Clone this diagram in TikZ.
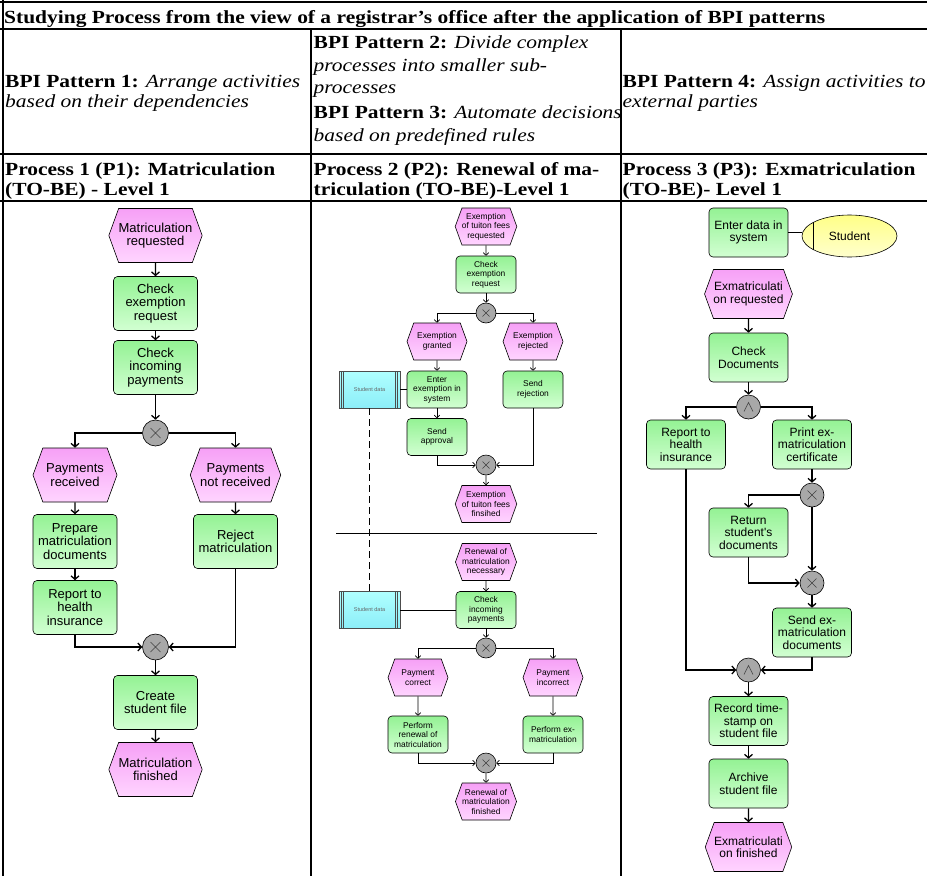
\documentclass[tikz,border=0pt]{standalone}
\usepackage{graphicx}
\usepackage{fontspec}
\setmainfont{Liberation Serif}
\newfontfamily\arisfont{Liberation Sans}
\usetikzlibrary{shapes.symbols,shapes.geometric,arrows.meta,calc}

\definecolor{evtop}{RGB}{246,160,246}
\definecolor{evbot}{RGB}{255,212,255}
\definecolor{fntop}{RGB}{148,242,148}
\definecolor{fnbot}{RGB}{210,255,210}
\definecolor{gatefill}{RGB}{168,168,168}
\definecolor{datatop}{RGB}{175,255,255}
\definecolor{databot}{RGB}{140,238,248}
\definecolor{orgtop}{RGB}{255,255,135}
\definecolor{orgbot}{RGB}{255,255,205}

% table text: Times-like serif, set slightly wide
\newcommand{\tabfont}{\fontsize{18.5}{20}\selectfont}
\newcommand{\wide}[1]{\scalebox{1.16}[1]{#1}}

\tikzset{
  gridline/.style={line width=2pt},
  celltext/.style={anchor=base west, inner sep=0pt, font=\tabfont},
  event/.style={signal, signal to=west and east, signal pointer angle=140,
    draw=black, line width=0.6pt, top color=evtop, bottom color=evbot,
    inner sep=0pt, align=center},
  func/.style={rectangle, rounded corners=4pt, draw=black, line width=0.6pt,
    top color=fntop, bottom color=fnbot, inner sep=0pt, align=center},
  gate/.style={circle, draw=black, line width=0.6pt, fill=gatefill, inner sep=0pt},
  xorgate/.style={gate, path picture={
    \draw[line width=0.5pt,black!75]
      ($(path picture bounding box.center)+(-#1,-#1)$) -- ($(path picture bounding box.center)+(#1,#1)$)
      ($(path picture bounding box.center)+(-#1,#1)$) -- ($(path picture bounding box.center)+(#1,-#1)$);}},
  andgate/.style={gate, path picture={
    \draw[line width=0.5pt,black!75]
      ($(path picture bounding box.center)+(-#1,-#1)$) -- ($(path picture bounding box.center)+(0pt,#1)$)
      -- ($(path picture bounding box.center)+(#1,-#1)$);}},
  % sizes of the three diagrams
  pA/.style={minimum width=84pt, minimum height=54pt,
    font=\arisfont\fontsize{13}{13.6}\selectfont},
  pB/.style={minimum width=60pt, minimum height=37pt,
    font=\arisfont\fontsize{8.4}{9.5}\selectfont},
  pC/.style={minimum width=79pt, minimum height=49pt,
    font=\arisfont\fontsize{12}{12.5}\selectfont},
  flowA/.style={line width=1.3pt, -{Straight Barb[length=3.5pt,width=8pt]}},
  flowB/.style={line width=0.7pt, -{Straight Barb[length=2.5pt,width=5.5pt]}},
  linkB/.style={line width=0.7pt},
  datastore/.style={rectangle, draw=black!70, line width=0.5pt,
    top color=datatop, bottom color=databot, minimum width=61pt, minimum height=37pt,
    inner sep=0pt, text=black!60, font=\arisfont\fontsize{5.5}{6}\selectfont,
    path picture={\foreach \dx in {2.5pt,4.5pt}{
      \draw[black!70,line width=0.5pt]
        ($(path picture bounding box.north west)+(\dx,0pt)$) -- ($(path picture bounding box.south west)+(\dx,0pt)$)
        ($(path picture bounding box.north east)+(-\dx,0pt)$) -- ($(path picture bounding box.south east)+(-\dx,0pt)$);}}},
  orgunit/.style={ellipse, draw=black, line width=0.6pt, top color=orgtop, bottom color=orgbot,
    minimum width=95pt, minimum height=42pt, inner sep=0pt,
    font=\arisfont\fontsize{12}{12.5}\selectfont,
    path picture={\draw[line width=0.6pt]
      ($(path picture bounding box.north west)+(11pt,0pt)$) -- ($(path picture bounding box.south west)+(11pt,0pt)$);}}
}

\begin{document}
\begin{tikzpicture}[x=1pt, y=-1pt]
\useasboundingbox (0,0) rectangle (927,876);
\fill[white] (0,0) rectangle (927,876);

% ---------- table ----------
\draw[gridline] (0,2) -- (927,2);
\draw[gridline] (0,29) -- (927,29);
\draw[gridline] (0,154) -- (927,154);
\draw[gridline] (0,201) -- (927,201);
\draw[gridline] (2.5,0) -- (2.5,876);
\draw[gridline] (311,29) -- (311,876);
\draw[gridline] (620.5,29) -- (620.5,876);

\node[celltext, font=\tabfont\bfseries] (title) at (4,23)
  {\wide{Studying Process from the view of a registrar’s office after the application of BPI patterns}};

\node[celltext] (pat1a) at (5,87) {\wide{\textbf{BPI Pattern 1:} \textit{Arrange activities}}};
\node[celltext] (pat1b) at (5,107.5) {\wide{\textit{based on their dependencies}}};

\node[celltext] (pat2a) at (313.5,48) {\wide{\textbf{BPI Pattern 2:} \textit{Divide complex}}};
\node[celltext] (pat2b) at (313.5,71) {\wide{\textit{processes into smaller sub-}}};
\node[celltext] (pat2c) at (313.5,93) {\wide{\textit{processes}}};
\node[celltext] (pat3a) at (313.5,118) {\wide{\textbf{BPI Pattern 3:} \textit{Automate decisions}}};
\node[celltext] (pat3b) at (313.5,141) {\wide{\textit{based on predefined rules}}};

\node[celltext] (pat4a) at (622.5,87) {\wide{\textbf{BPI Pattern 4:} \textit{Assign activities to}}};
\node[celltext] (pat4b) at (622.5,107.5) {\wide{\textit{external parties}}};

\node[celltext, font=\tabfont\bfseries] (head1a) at (5,175) {\wide{Process 1 (P1): Matriculation}};
\node[celltext, font=\tabfont\bfseries] (head1b) at (5,195) {\wide{(TO-BE) - Level 1}};
\node[celltext, font=\tabfont\bfseries] (head2a) at (313.5,175) {\wide{Process 2 (P2): Renewal of ma-}};
\node[celltext, font=\tabfont\bfseries] (head2b) at (313.5,195) {\wide{triculation (TO-BE)-Level 1}};
\node[celltext, font=\tabfont\bfseries] (head3a) at (622.5,175) {\wide{Process 3 (P3): Exmatriculation}};
\node[celltext, font=\tabfont\bfseries] (head3b) at (622.5,195) {\wide{(TO-BE)- Level 1}};

% ---------- Process 1 ----------
\node[event, pA] (c1e1) at (155.5,235.5) {Matriculation\\requested};
\node[func, pA]  (c1f1) at (155.5,303.5) {Check\\exemption\\request};
\node[func, pA]  (c1f2) at (155.5,367.5) {Check\\incoming\\payments};
\node[xorgate=5pt, minimum size=26pt] (c1x1) at (155.5,433) {};
\node[event, pA] (c1e2) at (75,475) {Payments\\received};
\node[event, pA] (c1e3) at (235.5,475) {Payments\\not received};
\node[func, pA]  (c1f3) at (75,541.5) {Prepare\\matriculation\\documents};
\node[func, pA]  (c1f4) at (235.5,541.5) {Reject\\matriculation};
\node[func, pA]  (c1f5) at (75,607.5) {Report to\\health\\insurance};
\node[xorgate=5pt, minimum size=26pt] (c1x2) at (155.5,647) {};
\node[func, pA]  (c1f6) at (155.5,702.5) {Create\\student file};
\node[event, pA] (c1e4) at (155.5,769.5) {Matriculation\\finished};

\draw[flowA] (c1e1) -- (c1f1);
\draw[flowA] (c1f1) -- (c1f2);
\draw[flowA] (c1f2) -- (c1x1);
\draw[flowA] (c1x1.west) -| (c1e2.north);
\draw[flowA] (c1x1.east) -| (c1e3.north);
\draw[flowA] (c1e2) -- (c1f3);
\draw[flowA] (c1e3) -- (c1f4);
\draw[flowA] (c1f3) -- (c1f5);
\draw[flowA] (c1f5.south) |- (c1x2.west);
\draw[flowA] (c1f4.south) |- (c1x2.east);
\draw[flowA] (c1x2) -- (c1f6);
\draw[flowA] (c1f6) -- (c1e4);

% ---------- Process 2 ----------
\node[event, pB] (c2e1) at (486,226.5) {Exemption\\of tuiton fees\\requested};
\node[func, pB]  (c2f1) at (486,274.5) {Check\\exemption\\request};
\node[xorgate=3.5pt, minimum size=20pt] (c2x1) at (486,313) {};
\node[event, pB] (c2e2) at (437,341.5) {Exemption\\granted};
\node[event, pB] (c2e3) at (533,341.5) {Exemption\\rejected};
\node[func, pB]  (c2f2) at (437,389.5) {Enter\\exemption in\\system};
\node[func, pB]  (c2f3) at (533,389.5) {Send\\rejection};
\node[datastore] (sd1)  at (369.5,389.5) {Student data};
\node[func, pB]  (c2f4) at (437,437) {Send\\approval};
\node[xorgate=3.5pt, minimum size=20pt] (c2x2) at (486,465) {};
\node[event, pB] (c2e4) at (486,504) {Exemption\\of tuiton fees\\finsihed};

\coordinate (sepL) at (336,533);
\coordinate (sepR) at (597,533);
\draw[line width=0.8pt] (sepL) -- (sepR);

\node[event, pB] (c2e5) at (486,562) {Renewal of\\matriculation\\necessary};
\node[func, pB]  (c2f5) at (486,610) {Check\\incoming\\payments};
\node[datastore] (sd2)  at (369.5,610) {Student data};
\node[xorgate=3.5pt, minimum size=20pt] (c2x3) at (486,648) {};
\node[event, pB] (c2e6) at (418,677.5) {Payment\\correct};
\node[event, pB] (c2e7) at (553,677.5) {Payment\\incorrect};
\node[func, pB]  (c2f6) at (418,734.5) {Perform\\renewal of\\matriculation};
\node[func, pB]  (c2f7) at (553,734.5) {Perform ex-\\matriculation};
\node[xorgate=3.5pt, minimum size=20pt] (c2x4) at (486,763) {};
\node[event, pB] (c2e8) at (486,801.5) {Renewal of\\matriculation\\finished};

\draw[flowB] (c2e1) -- (c2f1);
\draw[flowB] (c2f1) -- (c2x1);
\draw[flowB] (c2x1.west) -| (c2e2.north);
\draw[flowB] (c2x1.east) -| (c2e3.north);
\draw[flowB] (c2e2) -- (c2f2);
\draw[flowB] (c2e3) -- (c2f3);
\draw[flowB] (c2f2) -- (c2f4);
\draw[flowB] (c2f4.south) |- (c2x2.west);
\draw[flowB] (c2f3.south) |- (c2x2.east);
\draw[flowB] (c2x2) -- (c2e4);
\draw[linkB] (sd1) -- (c2f2);
\draw[linkB, dash pattern=on 7pt off 4pt] (sd1.south) -- (sd2.north);

\draw[flowB] (c2e5) -- (c2f5);
\draw[linkB] (sd2) -- (c2f5);
\draw[flowB] (c2f5) -- (c2x3);
\draw[flowB] (c2x3.west) -| (c2e6.north);
\draw[flowB] (c2x3.east) -| (c2e7.north);
\draw[flowB] (c2e6) -- (c2f6);
\draw[flowB] (c2e7) -- (c2f7);
\draw[flowB] (c2f6.south) |- (c2x4.west);
\draw[flowB] (c2f7.south) |- (c2x4.east);
\draw[flowB] (c2x4) -- (c2e8);

% ---------- Process 3 ----------
\node[func, pC]  (c3f0) at (748.5,232.5) {Enter data in\\system};
\node[orgunit]   (c3o)  at (849.5,236) {Student};
\node[event, pC] (c3e1) at (748.5,294) {Exmatriculati\\on requested};
\node[func, pC]  (c3f1) at (748.5,357.5) {Check\\Documents};
\node[andgate=4.5pt, minimum size=24pt] (c3a1) at (748.5,407) {};
\node[func, pC]  (c3f2) at (686,444.5) {Report to\\health\\insurance};
\node[func, pC]  (c3f3) at (812,444.5) {Print ex-\\matriculation\\certificate};
\node[xorgate=4.5pt, minimum size=24pt] (c3x1) at (812,495) {};
\node[func, pC]  (c3f4) at (748.5,532.5) {Return\\student's\\documents};
\node[xorgate=4.5pt, minimum size=24pt] (c3x2) at (812,583) {};
\node[func, pC]  (c3f5) at (812,632.5) {Send ex-\\matriculation\\documents};
\node[andgate=4.5pt, minimum size=24pt] (c3a2) at (748.5,670) {};
\node[func, pC]  (c3f6) at (748.5,721) {Record time-\\stamp on\\student file};
\node[func, pC]  (c3f7) at (748.5,783.5) {Archive\\student file};
\node[event, pC] (c3e2) at (748.5,847) {Exmatriculati\\on finished};

\draw[line width=1.1pt] (c3f0) -- (c3o.west |- c3f0);
\draw[flowA] (c3e1) -- (c3f1);
\draw[flowA] (c3f1) -- (c3a1);
\draw[flowA] (c3a1.west) -| (c3f2.north);
\draw[flowA] (c3a1.east) -| (c3f3.north);
\draw[flowA] (c3f3) -- (c3x1);
\draw[flowA] (c3x1.west) -| (c3f4.north);
\draw[flowA] (c3x1) -- (c3x2);
\draw[flowA] (c3f4.south) |- (c3x2.west);
\draw[flowA] (c3x2) -- (c3f5);
\draw[flowA] (c3f2.south) |- (c3a2.west);
\draw[flowA] (c3f5.south) |- (c3a2.east);
\draw[flowA] (c3a2) -- (c3f6);
\draw[flowA] (c3f6) -- (c3f7);
\draw[flowA] (c3f7) -- (c3e2);
\end{tikzpicture}
\end{document}
